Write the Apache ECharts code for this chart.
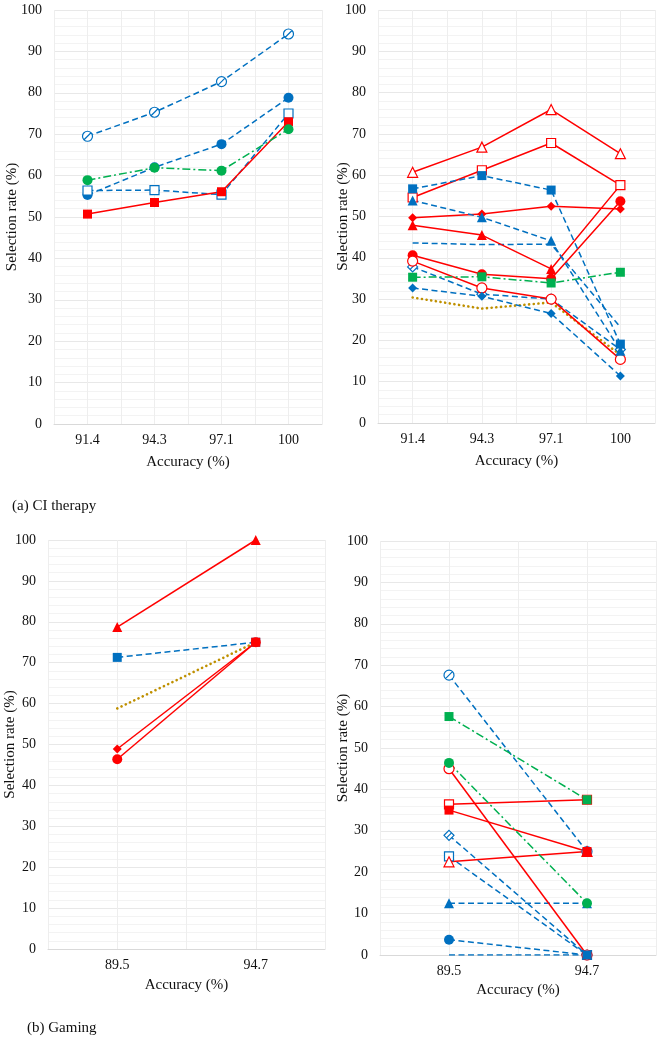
<!DOCTYPE html>
<html>
<head>
<meta charset="utf-8">
<script src="https://cdn.jsdelivr.net/npm/echarts@6/dist/echarts.min.js"></script>
<style>
html,body{margin:0;padding:0;background:#fff;}
#chart{width:664px;height:1050px;}
</style>
</head>
<body>
<div id="chart"></div>
<script>
// ---------- categories ----------
const catA = ['91.4', '94.3', '97.1', '100'];
const catB = ['89.5', '94.7'];
const yTicks = [0, 10, 20, 30, 40, 50, 60, 70, 80, 90, 100];

// ---------- (a) CI therapy, left ----------
const a1BlueOpenCircle = [69.5, 75.3, 82.7, 94.2];
const a1BlueCircle     = [55.3, 62.0, 67.6, 78.8];
const a1BlueOpenSquare = [56.4, 56.5, 55.4, 75.0];
const a1GreenCircle    = [58.9, 61.9, 61.2, 71.2];
const a1RedSquare      = [50.7, 53.5, 56.1, 73.0];

// ---------- (a) CI therapy, right ----------
const a2RedOpenTriangle = [60.7, 66.8, 75.9, 65.2];
const a2RedOpenSquare   = [54.6, 61.2, 67.8, 57.6];
const a2BlueSquare      = [56.7, 59.9, 56.4, 19.1];
const a2BlueTriangle    = [53.9, 49.8, 44.1, 17.5];
const a2BlueLine        = [43.6, 43.2, 43.3, 23.2];
const a2RedDiamond      = [49.7, 50.6, 52.5, 51.8];
const a2RedTriangle     = [47.9, 45.5, 37.3, 57.6];
const a2RedCircle       = [40.6, 36.0, 34.9, 53.7];
const a2GreenSquare     = [35.3, 35.4, 33.9, 36.5];
const a2RedOpenCircle   = [39.2, 32.7, 30.0, 15.4];
const a2BlueOpenDiamond = [37.8, 31.2, 30.0, 17.8];
const a2BlueDiamond     = [32.7, 30.7, 26.5, 11.4];
const a2Gold            = [30.4, 27.7, 29.2, 16.5];

// ---------- (b) Gaming, left ----------
const b1RedTriangle = [78.7, 100.0];
const b1BlueSquare  = [71.3, 75.0];
const b1Gold        = [58.8, 75.0];
const b1RedDiamond  = [48.9, 75.0];
const b1RedCircle   = [46.4, 75.0];
const b1RedSquare   = [null, 75.0];

// ---------- (b) Gaming, right ----------
const b2BlueOpenCircle  = [67.6, 25.0];
const b2GreenSquare     = [57.6, 37.5];
const b2GreenCircle     = [46.4, 12.5];
const b2RedOpenCircle   = [45.0, 0.0];
const b2RedOpenSquare   = [36.4, 37.5];
const b2RedSquare       = [35.0, 25.0];
const b2BlueOpenDiamond = [28.9, 0.0];
const b2BlueOpenSquare  = [23.8, 0.0];
const b2RedOpenTriangle = [22.5, 25.0];
const b2BlueTriangle    = [12.5, 12.5];
const b2BlueCircle      = [3.7, 0.0];
const b2BlueLine        = [0.0, 0.0];
const b2BlueSquare      = [null, 0.0];

// ---------- styling ----------
const BLUE = '#0070C0', RED = '#FF0000', GREEN = '#00B050', GOLD = '#BF9000';
const FONT = "'Liberation Serif', 'Times New Roman', serif";
const CIRCLE_SLASH = 'path://M10,0A10,10,0,1,1,10,20A10,10,0,1,1,10,0Z M3,17L17,3';
const DIAMOND_SLASH = 'path://M10,0L20,10L10,20L0,10Z M5,15L15,5';
const DASH = {
  solid: 'solid',
  dash: [6, 3.5],
  dashdot: [8, 3, 2, 3],
  dot: [0.1, 4.6]
};
const SYM = {
  circle: ['circle', 10], square: ['rect', 9], triangle: ['triangle', 10],
  diamond: ['diamond', 9], circleSlash: [CIRCLE_SLASH, 10], diamondSlash: [DIAMOND_SLASH, 10],
  none: ['none', 0]
};

function mk(g, data, color, dash, sym, hollow) {
  const s = SYM[sym];
  return {
    type: 'line',
    xAxisIndex: g, yAxisIndex: g,
    data: data.map((v, i) => [i, v == null ? '-' : v]),
    symbol: s[0], symbolSize: s[1],
    showSymbol: sym !== 'none',
    lineStyle: {
      color: color,
      width: dash === 'dot' ? 2.6 : 1.5,
      type: DASH[dash],
      cap: dash === 'dot' ? 'round' : 'butt'
    },
    itemStyle: hollow
      ? { color: '#ffffff', borderColor: color, borderWidth: 1.2 }
      : { color: color, borderWidth: 0 },
    emphasis: { disabled: true },
    animation: false,
    z: 3
  };
}

const grids = [
  { left: 54, top: 10, width: 268, height: 414 },
  { left: 378, top: 10, width: 277, height: 413 },
  { left: 48, top: 540, width: 277, height: 409 },
  { left: 380, top: 541, width: 276, height: 414 }
];
const gridCats = [catA, catA, catB, catB];
const yNameGap = [34.5, 27, 30.5, 29.5];
const xNameGap = [30.5, 30.5, 28.5, 27.5];

const xAxes = gridCats.map((cats, g) => ({
  type: 'value', gridIndex: g,
  min: -0.5, max: cats.length - 0.5, interval: 0.5,
  axisLine: { show: true, lineStyle: { color: '#d9d9d9', width: 1 } },
  axisTick: { show: false },
  splitLine: { show: true, lineStyle: { color: '#eeeeee', width: 1 } },
  axisLabel: {
    margin: 9, fontFamily: FONT, fontSize: 14, color: '#111',
    showMinLabel: true, showMaxLabel: true,
    formatter: v => Math.abs(v - Math.round(v)) < 1e-6 && cats[Math.round(v)] !== undefined ? cats[Math.round(v)] : ''
  },
  name: 'Accuracy (%)', nameLocation: 'middle', nameGap: xNameGap[g],
  nameMoveOverlap: false,
  nameTextStyle: { fontFamily: FONT, fontSize: 15, color: '#111' }
}));

const yAxes = gridCats.map((cats, g) => ({
  type: 'value', gridIndex: g,
  min: yTicks[0], max: yTicks[yTicks.length - 1], interval: yTicks[1] - yTicks[0],
  axisLine: { show: false }, axisTick: { show: false },
  splitLine: { show: true, lineStyle: { color: '#e8e8e8', width: 1 } },
  minorTick: { show: false, splitNumber: 5 },
  minorSplitLine: { show: true, lineStyle: { color: '#f3f3f3', width: 1 } },
  axisLabel: {
    margin: 12, fontFamily: FONT, fontSize: 14, color: '#111',
    formatter: v => yTicks.indexOf(v) >= 0 ? String(v) : ''
  },
  name: 'Selection rate (%)', nameLocation: 'middle', nameRotate: 90, nameGap: yNameGap[g],
  nameMoveOverlap: false,
  nameTextStyle: { fontFamily: FONT, fontSize: 15, color: '#111' }
}));

const series = [
  // a1
  mk(0, a1BlueOpenCircle, BLUE, 'dash', 'circleSlash', true),
  mk(0, a1BlueCircle, BLUE, 'dash', 'circle', false),
  mk(0, a1BlueOpenSquare, BLUE, 'dash', 'square', true),
  mk(0, a1RedSquare, RED, 'solid', 'square', false),
  mk(0, a1GreenCircle, GREEN, 'dashdot', 'circle', false),
  // a2
  mk(1, a2Gold, GOLD, 'dot', 'none', false),
  mk(1, a2BlueLine, BLUE, 'dash', 'none', false),
  mk(1, a2RedOpenTriangle, RED, 'solid', 'triangle', true),
  mk(1, a2RedTriangle, RED, 'solid', 'triangle', false),
  mk(1, a2RedOpenSquare, RED, 'solid', 'square', true),
  mk(1, a2RedDiamond, RED, 'solid', 'diamond', false),
  mk(1, a2RedCircle, RED, 'solid', 'circle', false),
  mk(1, a2BlueOpenDiamond, BLUE, 'dash', 'diamondSlash', true),
  mk(1, a2RedOpenCircle, RED, 'solid', 'circle', true),
  mk(1, a2BlueTriangle, BLUE, 'dash', 'triangle', false),
  mk(1, a2BlueDiamond, BLUE, 'dash', 'diamond', false),
  mk(1, a2BlueSquare, BLUE, 'dash', 'square', false),
  mk(1, a2GreenSquare, GREEN, 'dashdot', 'square', false),
  // b1
  mk(2, b1Gold, GOLD, 'dot', 'none', false),
  mk(2, b1BlueSquare, BLUE, 'dash', 'square', false),
  mk(2, b1RedTriangle, RED, 'solid', 'triangle', false),
  mk(2, b1RedDiamond, RED, 'solid', 'diamond', false),
  mk(2, b1RedCircle, RED, 'solid', 'circle', false),
  mk(2, b1RedSquare, RED, 'solid', 'square', false),
  // b2
  mk(3, b2BlueLine, BLUE, 'dash', 'none', false),
  mk(3, b2BlueOpenCircle, BLUE, 'dash', 'circleSlash', true),
  mk(3, b2BlueOpenDiamond, BLUE, 'dash', 'diamondSlash', true),
  mk(3, b2BlueOpenSquare, BLUE, 'dash', 'square', true),
  mk(3, b2BlueTriangle, BLUE, 'dash', 'triangle', false),
  mk(3, b2BlueCircle, BLUE, 'dash', 'circle', false),
  mk(3, b2RedOpenCircle, RED, 'solid', 'circle', true),
  mk(3, b2RedOpenTriangle, RED, 'solid', 'triangle', true),
  mk(3, b2RedOpenSquare, RED, 'solid', 'square', true),
  mk(3, b2RedSquare, RED, 'solid', 'square', false),
  mk(3, b2GreenSquare, GREEN, 'dashdot', 'square', false),
  mk(3, b2GreenCircle, GREEN, 'dashdot', 'circle', false),
  mk(3, b2BlueSquare, BLUE, 'dash', 'square', false)
];

const chart = echarts.init(document.getElementById('chart'), null, { renderer: 'canvas' });
chart.setOption({
  backgroundColor: '#ffffff',
  animation: false,
  grid: grids,
  xAxis: xAxes,
  yAxis: yAxes,
  series: series,
  graphic: [
    { type: 'text', left: 12, top: 499, style: { text: '(a) CI therapy', font: '15px ' + FONT, fill: '#111' } },
    { type: 'text', left: 27, top: 1021, style: { text: '(b) Gaming', font: '15px ' + FONT, fill: '#111' } }
  ]
});
</script>
</body>
</html>
